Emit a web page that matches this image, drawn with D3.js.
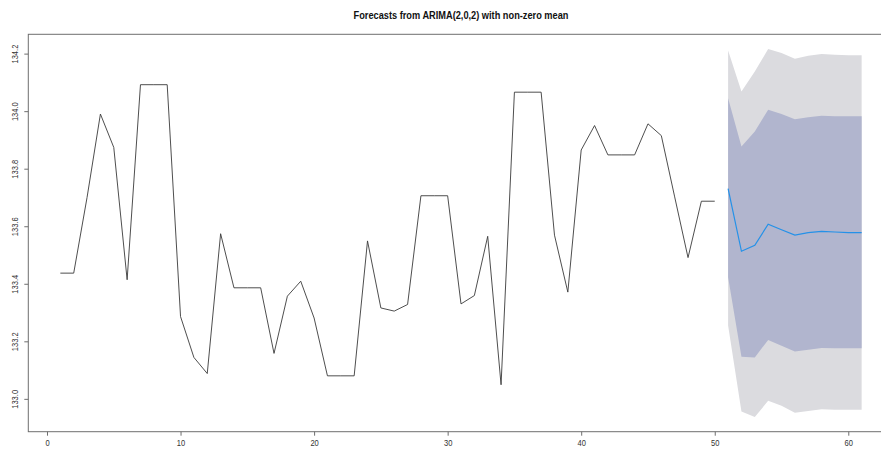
<!DOCTYPE html>
<html>
<head>
<meta charset="utf-8">
<script src="https://cdn.jsdelivr.net/npm/d3@7"></script>
<style>
  body { margin: 0; background: #fff; }
  svg text { font-family: "Liberation Sans Narrow", "Arial Narrow", "Liberation Sans", Arial, sans-serif; }
</style>
</head>
<body>
<div id="viz-area"></div>
<script>
// observed series, t = 1..50
const observed = [133.437, 133.437, 133.70, 133.990, 133.874, 133.414, 134.092, 134.092, 134.092, 133.286,
                  133.144, 133.088, 133.574, 133.386, 133.386, 133.386, 133.158, 133.357, 133.409, 133.281,
                  133.080, 133.080, 133.080, 133.549, 133.316, 133.305, 133.328, 133.706, 133.706, 133.706,
                  133.330, 133.359, 133.565, 133.049, 134.066, 134.066, 134.066, 133.569, 133.371, 133.865,
                  133.950, 133.848, 133.848, 133.848, 133.956, 133.915, 133.702, 133.491, 133.687, 133.687];

// forecasts, t = 51..61
const fcMean = [133.731, 133.513, 133.534, 133.607, 133.588, 133.569, 133.578, 133.582, 133.580, 133.578, 133.578];
const hi80   = [134.045, 133.877, 133.929, 134.005, 133.990, 133.972, 133.979, 133.984, 133.982, 133.982, 133.982];
const lo80   = [133.423, 133.146, 133.144, 133.205, 133.185, 133.165, 133.171, 133.177, 133.176, 133.176, 133.176];
const hi95   = [134.211, 134.068, 134.138, 134.216, 134.202, 134.182, 134.193, 134.199, 134.196, 134.194, 134.194];
const lo95   = [133.255, 132.956, 132.937, 132.993, 132.976, 132.952, 132.958, 132.964, 132.962, 132.962, 132.962];

const xTicks = [0, 10, 20, 30, 40, 50, 60];
const yTicks = [133.0, 133.2, 133.4, 133.6, 133.8, 134.0, 134.2];
const TITLE = "Forecasts from ARIMA(2,0,2) with non-zero mean";

// layout (R base graphics look)
const W = 881, H = 449;
const PLOT = { LEFT: 28.3, RIGHT: 893.7, TOP: 34.3, BOTTOM: 431.7 };
const NARROW = 0.84;   // squeeze text, R png fonts are condensed

const obsData = observed.map((v, i) => ({ t: i + 1, v }));
const fcData = fcMean.map((v, i) => ({ t: observed.length + i + 1, v, lo80: lo80[i], hi80: hi80[i], lo95: lo95[i], hi95: hi95[i] }));

// 4% range extension, like R's xaxs="r"
function extend(ext) {
  const d = (ext[1] - ext[0]) * 0.04;
  return [ext[0] - d, ext[1] + d];
}
const tAll = obsData.map(d => d.t).concat(fcData.map(d => d.t));
const vAll = observed.concat(lo95, hi95);

const x = d3.scaleLinear().domain(extend(d3.extent(tAll))).range([PLOT.LEFT, PLOT.RIGHT]);
const y = d3.scaleLinear().domain(extend(d3.extent(vAll))).range([PLOT.BOTTOM, PLOT.TOP]);

const svg = d3.select("#viz-area").append("svg")
  .attr("width", W)
  .attr("height", H);

svg.append("rect").attr("width", W).attr("height", H).attr("fill", "#fff");

// title
svg.append("text")
  .attr("transform", `translate(${(PLOT.LEFT + PLOT.RIGHT) / 2},19) scale(${NARROW},1)`)
  .attr("text-anchor", "middle")
  .style("font-size", "11px")
  .style("font-weight", "bold")
  .attr("fill", "#111")
  .text(TITLE);

// prediction bands
const band95 = d3.area().x(d => x(d.t)).y0(d => y(d.lo95)).y1(d => y(d.hi95));
const band80 = d3.area().x(d => x(d.t)).y0(d => y(d.lo80)).y1(d => y(d.hi80));

svg.append("path").datum(fcData).attr("d", band95).attr("fill", "#dbdbdf");
svg.append("path").datum(fcData).attr("d", band80).attr("fill", "#b1b5ce");

// observed line
const line = d3.line().x(d => x(d.t)).y(d => y(d.v));
svg.append("path").datum(obsData)
  .attr("d", line)
  .attr("fill", "none")
  .attr("stroke", "#3a3a3a")
  .attr("stroke-width", 0.9);

// forecast mean
svg.append("path").datum(fcData)
  .attr("d", line)
  .attr("fill", "none")
  .attr("stroke", "#2491e8")
  .attr("stroke-width", 1.2);

// box
svg.append("rect")
  .attr("x", PLOT.LEFT).attr("y", PLOT.TOP)
  .attr("width", PLOT.RIGHT - PLOT.LEFT).attr("height", PLOT.BOTTOM - PLOT.TOP)
  .attr("fill", "none")
  .attr("stroke", "#6e6e6e")
  .attr("stroke-width", 1);

// axes
const xAxis = d3.axisBottom(x).tickValues(xTicks).tickSize(4).tickPadding(4).tickFormat(d3.format("d"));
const gx = svg.append("g").attr("transform", `translate(0,${PLOT.BOTTOM})`).call(xAxis);
gx.select(".domain").remove();
gx.selectAll("line").attr("stroke", "#6e6e6e");
gx.selectAll("text")
  .attr("y", null).attr("dy", null)
  .attr("transform", `translate(0,14) scale(${NARROW},1)`)
  .style("font-size", "9px").attr("fill", "#333");

const yAxis = d3.axisLeft(y).tickValues(yTicks).tickSize(4).tickFormat(d3.format(".1f"));
const gy = svg.append("g").attr("transform", `translate(${PLOT.LEFT},0)`).call(yAxis);
gy.select(".domain").remove();
gy.selectAll("line").attr("stroke", "#6e6e6e");
gy.selectAll("text")
  .attr("x", 0).attr("y", 0).attr("dy", 0)
  .attr("text-anchor", "middle")
  .attr("transform", `translate(-10,0) rotate(-90) scale(${NARROW},1)`)
  .style("font-size", "9px")
  .attr("fill", "#333");
</script>
</body>
</html>
